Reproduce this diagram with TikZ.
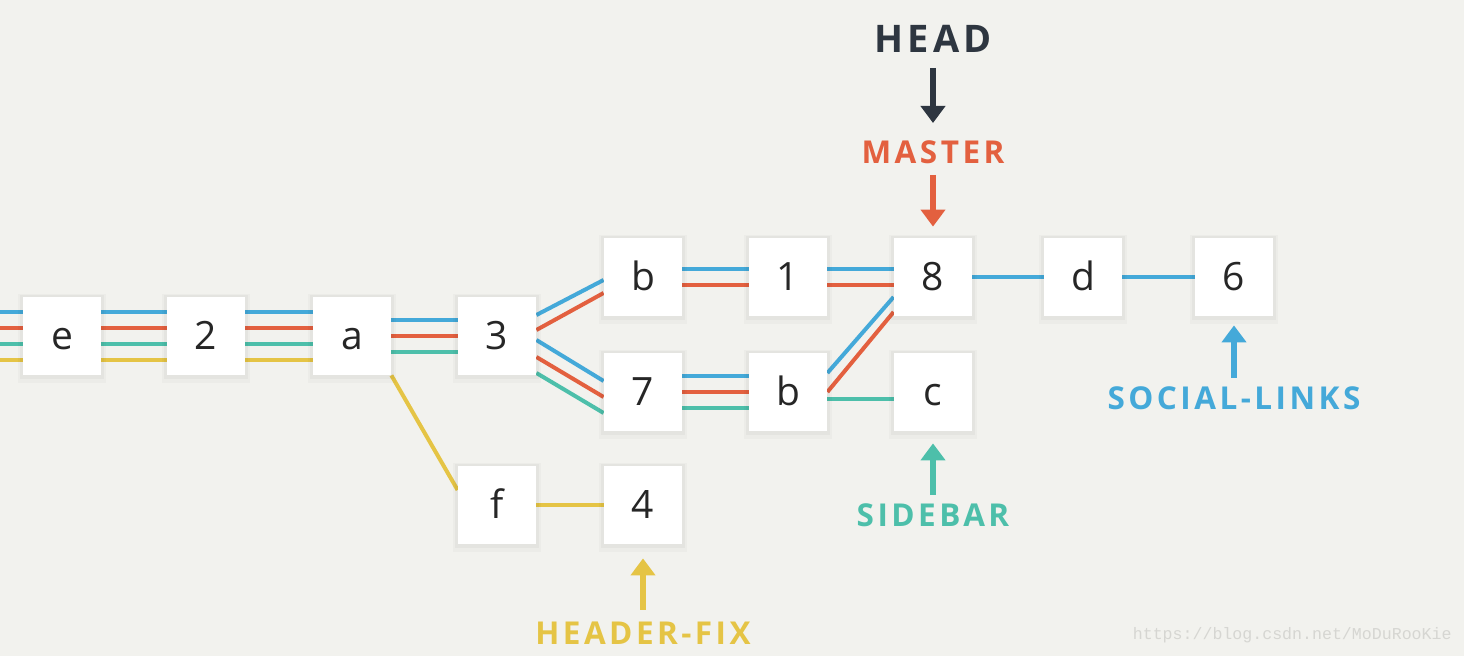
\documentclass[tikz,border=0pt]{standalone}
\usepackage{fontspec}
\setmainfont{Open Sans}
\newfontfamily\lblfont{Open Sans}[LetterSpace=11]
\newfontfamily\wmfont{Liberation Mono}
\usetikzlibrary{arrows.meta,calc,shadows}
\definecolor{bgc}{HTML}{F2F2EE}
\definecolor{txt}{HTML}{262626}
\definecolor{cblue}{HTML}{44A9D9}
\definecolor{cred}{HTML}{E3603F}
\definecolor{cteal}{HTML}{4DBFAA}
\definecolor{cyel}{HTML}{E5C445}
\definecolor{cdark}{HTML}{2E3640}
\definecolor{wm}{HTML}{D6D6D2}
\pgfdeclarelayer{back}
\pgfsetlayers{back,main}
\begin{document}
\begin{tikzpicture}[x=0.5pt,y=-0.5pt,
  commit/.style={fill=white, minimum size=39pt, inner sep=0pt,
    text height=13.6pt, text depth=0pt, text=txt,
    font=\fontsize{19.5}{19.5}\selectfont,
    general shadow={fill=black,opacity=0.025,shadow scale=1.14, shadow yshift=-1pt},
    general shadow={fill=black,opacity=0.03,shadow scale=1.07, shadow yshift=-0.5pt}},
  ln/.style={line width=2pt},
  bl/.style={ln,cblue}, rd/.style={ln,cred}, tl/.style={ln,cteal}, yl/.style={ln,cyel},
  lbl/.style={inner sep=0pt, anchor=base, font=\lblfont\bfseries\fontsize{15.75}{16}\selectfont},
  ptr/.style={line width=2.8pt, -{Triangle[width=12pt,length=8.5pt]}}
]
\begin{pgfonlayer}{back}
\fill[bgc] (0,0) rectangle (1464,656);
\end{pgfonlayer}
\useasboundingbox (0,0) rectangle (1464,656);

% commits
\node[commit] (e) at (62,336) {e};
\node[commit] (two) at (206,336) {2};
\node[commit] (a) at (352,336) {a};
\node[commit] (three) at (497,336) {3};
\node[commit] (btop) at (643,277) {b};
\node[commit] (one) at (788,277) {1};
\node[commit] (eight) at (933,277) {8};
\node[commit] (d) at (1083,277) {d};
\node[commit] (six) at (1234,277) {6};
\node[commit] (seven) at (643,392) {7};
\node[commit] (blow) at (788,392) {b};
\node[commit] (c) at (933,392) {c};
\node[commit] (f) at (497,505) {f};
\node[commit] (four) at (643,505) {4};
\coordinate (L) at (0,336);

% labels
\node[lbl, text=cdark, font=\lblfont\bfseries\fontsize{19}{19}\selectfont] (head) at (933,53) {HEAD};
\node[lbl, text=cred] (master) at (933,164) {MASTER};
\node[lbl, text=cblue] (social) at (1234,410) {SOCIAL-LINKS};
\node[lbl, text=cteal] (sidebar) at (933,527) {SIDEBAR};
\node[lbl, text=cyel] (hfix) at (643,645) {HEADER-FIX};
\node[inner sep=0pt, anchor=base east, text=wm, font=\wmfont\fontsize{8.3}{9}\selectfont] (wmk) at (1452,640) {https://blog.csdn.net/MoDuRooKie};

% pointers
\draw[ptr, cdark] ($(head.base)+(0,15)$) -- ($(master.base)+(0,-41)$);
\draw[ptr, cred] ($(master.base)+(0,11)$) -- ($(eight.north)+(0,-11)$);
\draw[ptr, cblue] ($(social.base)+(0,-32)$) -- ($(six.south)+(0,9)$);
\draw[ptr, cteal] ($(sidebar.base)+(0,-32)$) -- ($(c.south)+(0,12)$);
\draw[ptr, cyel] ($(hfix.base)+(0,-35)$) -- ($(four.south)+(0,14)$);

\begin{pgfonlayer}{back}
% blue
\draw[bl] ($(L)+(0,-24)$) -- ($(e.west)+(0,-24)$);
\draw[bl] ($(e.east)+(0,-24)$) -- ($(two.west)+(0,-24)$);
\draw[bl] ($(two.east)+(0,-24)$) -- ($(a.west)+(0,-24)$);
\draw[bl] ($(a.east)+(0,-16)$) -- ($(three.west)+(0,-16)$);
\draw[bl] ($(three.east)+(0,-21)$) -- ($(btop.west)+(0,3)$);
\draw[bl] ($(three.east)+(0,4)$) -- ($(seven.west)+(0,-11)$);
\draw[bl] ($(btop.east)+(0,-8)$) -- ($(one.west)+(0,-8)$);
\draw[bl] ($(one.east)+(0,-8)$) -- ($(eight.west)+(0,-8)$);
\draw[bl] ($(seven.east)+(0,-16)$) -- ($(blow.west)+(0,-16)$);
\draw[bl] ($(blow.east)+(0,-19)$) -- ($(eight.west)+(0,20)$);
\draw[bl] (eight.east) -- (d.west);
\draw[bl] (d.east) -- (six.west);
% red
\draw[rd] ($(L)+(0,-8)$) -- ($(e.west)+(0,-8)$);
\draw[rd] ($(e.east)+(0,-8)$) -- ($(two.west)+(0,-8)$);
\draw[rd] ($(two.east)+(0,-8)$) -- ($(a.west)+(0,-8)$);
\draw[rd] (a.east) -- (three.west);
\draw[rd] ($(three.east)+(0,-6)$) -- ($(btop.west)+(0,16)$);
\draw[rd] ($(three.east)+(0,21)$) -- ($(seven.west)+(0,5)$);
\draw[rd] ($(btop.east)+(0,8)$) -- ($(one.west)+(0,8)$);
\draw[rd] ($(one.east)+(0,8)$) -- ($(eight.west)+(0,8)$);
\draw[rd] (seven.east) -- (blow.west);
\draw[rd] (blow.east) -- ($(eight.west)+(0,35)$);
% teal
\draw[tl] ($(L)+(0,8)$) -- ($(e.west)+(0,8)$);
\draw[tl] ($(e.east)+(0,8)$) -- ($(two.west)+(0,8)$);
\draw[tl] ($(two.east)+(0,8)$) -- ($(a.west)+(0,8)$);
\draw[tl] ($(a.east)+(0,16)$) -- ($(three.west)+(0,16)$);
\draw[tl] ($(three.east)+(0,37)$) -- ($(seven.west)+(0,21)$);
\draw[tl] ($(seven.east)+(0,16)$) -- ($(blow.west)+(0,16)$);
\draw[tl] ($(blow.east)+(0,7)$) -- ($(c.west)+(0,7)$);
% yellow
\draw[yl] ($(L)+(0,24)$) -- ($(e.west)+(0,24)$);
\draw[yl] ($(e.east)+(0,24)$) -- ($(two.west)+(0,24)$);
\draw[yl] ($(two.east)+(0,24)$) -- ($(a.west)+(0,24)$);
\draw[yl] (a.south east) -- ($(f.west)+(0,-15)$);
\draw[yl] (f.east) -- (four.west);
\end{pgfonlayer}
\end{tikzpicture}
\end{document}
